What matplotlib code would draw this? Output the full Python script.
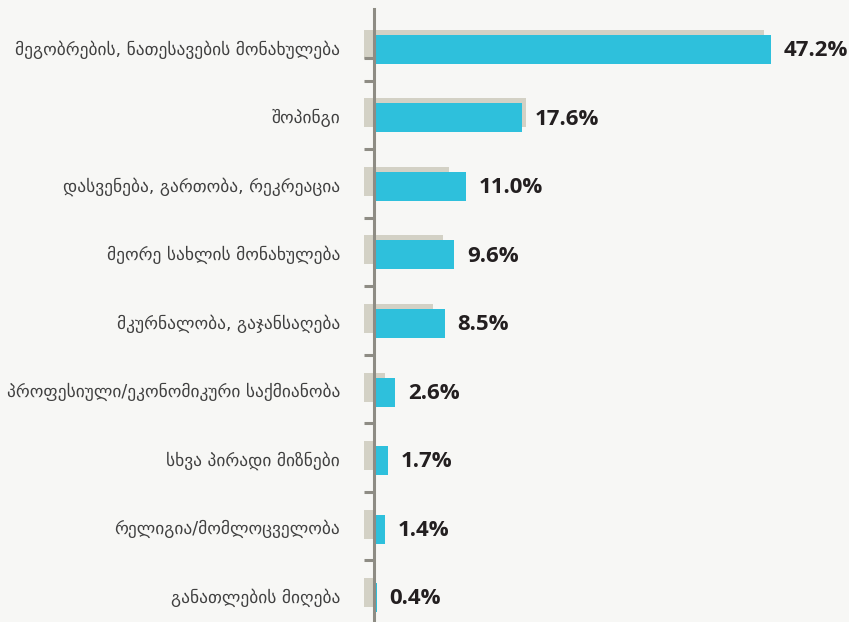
import matplotlib.pyplot as plt
import matplotlib.ticker as ticker
import numpy as np

# data
categories = [
    "მეგობრების, ნათესავების მონახულება",
    "შოპინგი",
    "დასვენება, გართობა, რეკრეაცია",
    "მეორე სახლის მონახულება",
    "მკურნალობა, გაჯანსაღება",
    "პროფესიული/ეკონომიკური საქმიანობა",
    "სხვა პირადი მიზნები",
    "რელიგია/მომლოცველობა",
    "განათლების მიღება",
]
values = [47.2, 17.6, 11.0, 9.6, 8.5, 2.6, 1.7, 1.4, 0.4]
prev_values = [46.4, 18.1, 9.0, 8.3, 7.1, 1.4, 0.0, 0.0, 0.0]   # grey shadow bars (no labels)

teal = "#2ec0dc"
grey = "#d3d1c5"
axis_col = "#8e8c84"
bg = "#f7f7f5"

W, H, DPI = 849, 622, 100
fig = plt.figure(figsize=(W / DPI, H / DPI), dpi=DPI, facecolor=bg)

# axes box in pixels
left_px, top_px = 340, 9
ax = fig.add_axes([left_px / W, 0, 1 - left_px / W, (H - top_px) / H])
ax.set_facecolor(bg)

px_per_unit = 8.42          # px per percent
zero_px = 373.5
ax.set_xlim(-(zero_px - left_px) / px_per_unit, (W - zero_px) / px_per_unit)

row_px = 68.5
first_px = 49.5
ax.set_ylim((H - first_px) / row_px, -(first_px - top_px) / row_px)

y = np.arange(len(categories))
bar_h = 29 / row_px
shift = 5 / row_px
stub = 10 / px_per_unit

ax.barh(y - shift, np.array(prev_values) + stub, left=-stub, height=bar_h,
        color=grey, zorder=1)
ax.barh(y, values, height=bar_h, color=teal, zorder=2)

for yi, v in zip(y, values):
    ax.annotate(f"{v:.1f}%", (v, yi), xytext=(9, -1), textcoords="offset points",
                ha="left", va="center", fontsize=16, fontweight="bold",
                family=["Open Sans", "DejaVu Sans"], color="#231f20")

# spine / ticks
for s in ["top", "right", "bottom"]:
    ax.spines[s].set_visible(False)
ax.spines["left"].set_position(("data", 0))
ax.spines["left"].set_color(axis_col)
ax.spines["left"].set_linewidth(2.2)
ax.spines["left"].set_zorder(3)
ax.set_xticks([])

ax.set_yticks(y - 2 / row_px)
ax.set_yticklabels(categories, fontsize=12.5, color="#404040",
                   family=["DejaVu Sans"])
ax.tick_params(axis="y", which="major", length=0, pad=24)
minor = list(np.arange(0.5, len(categories) - 1, 1.0) - 3 / row_px)
minor.insert(0, (58 - first_px) / row_px)
ax.yaxis.set_minor_locator(ticker.FixedLocator(minor))
ax.tick_params(axis="y", which="minor", length=7.2, width=2.2, color=axis_col,
               direction="out")

plt.savefig("out.png", dpi=DPI, facecolor=bg)
